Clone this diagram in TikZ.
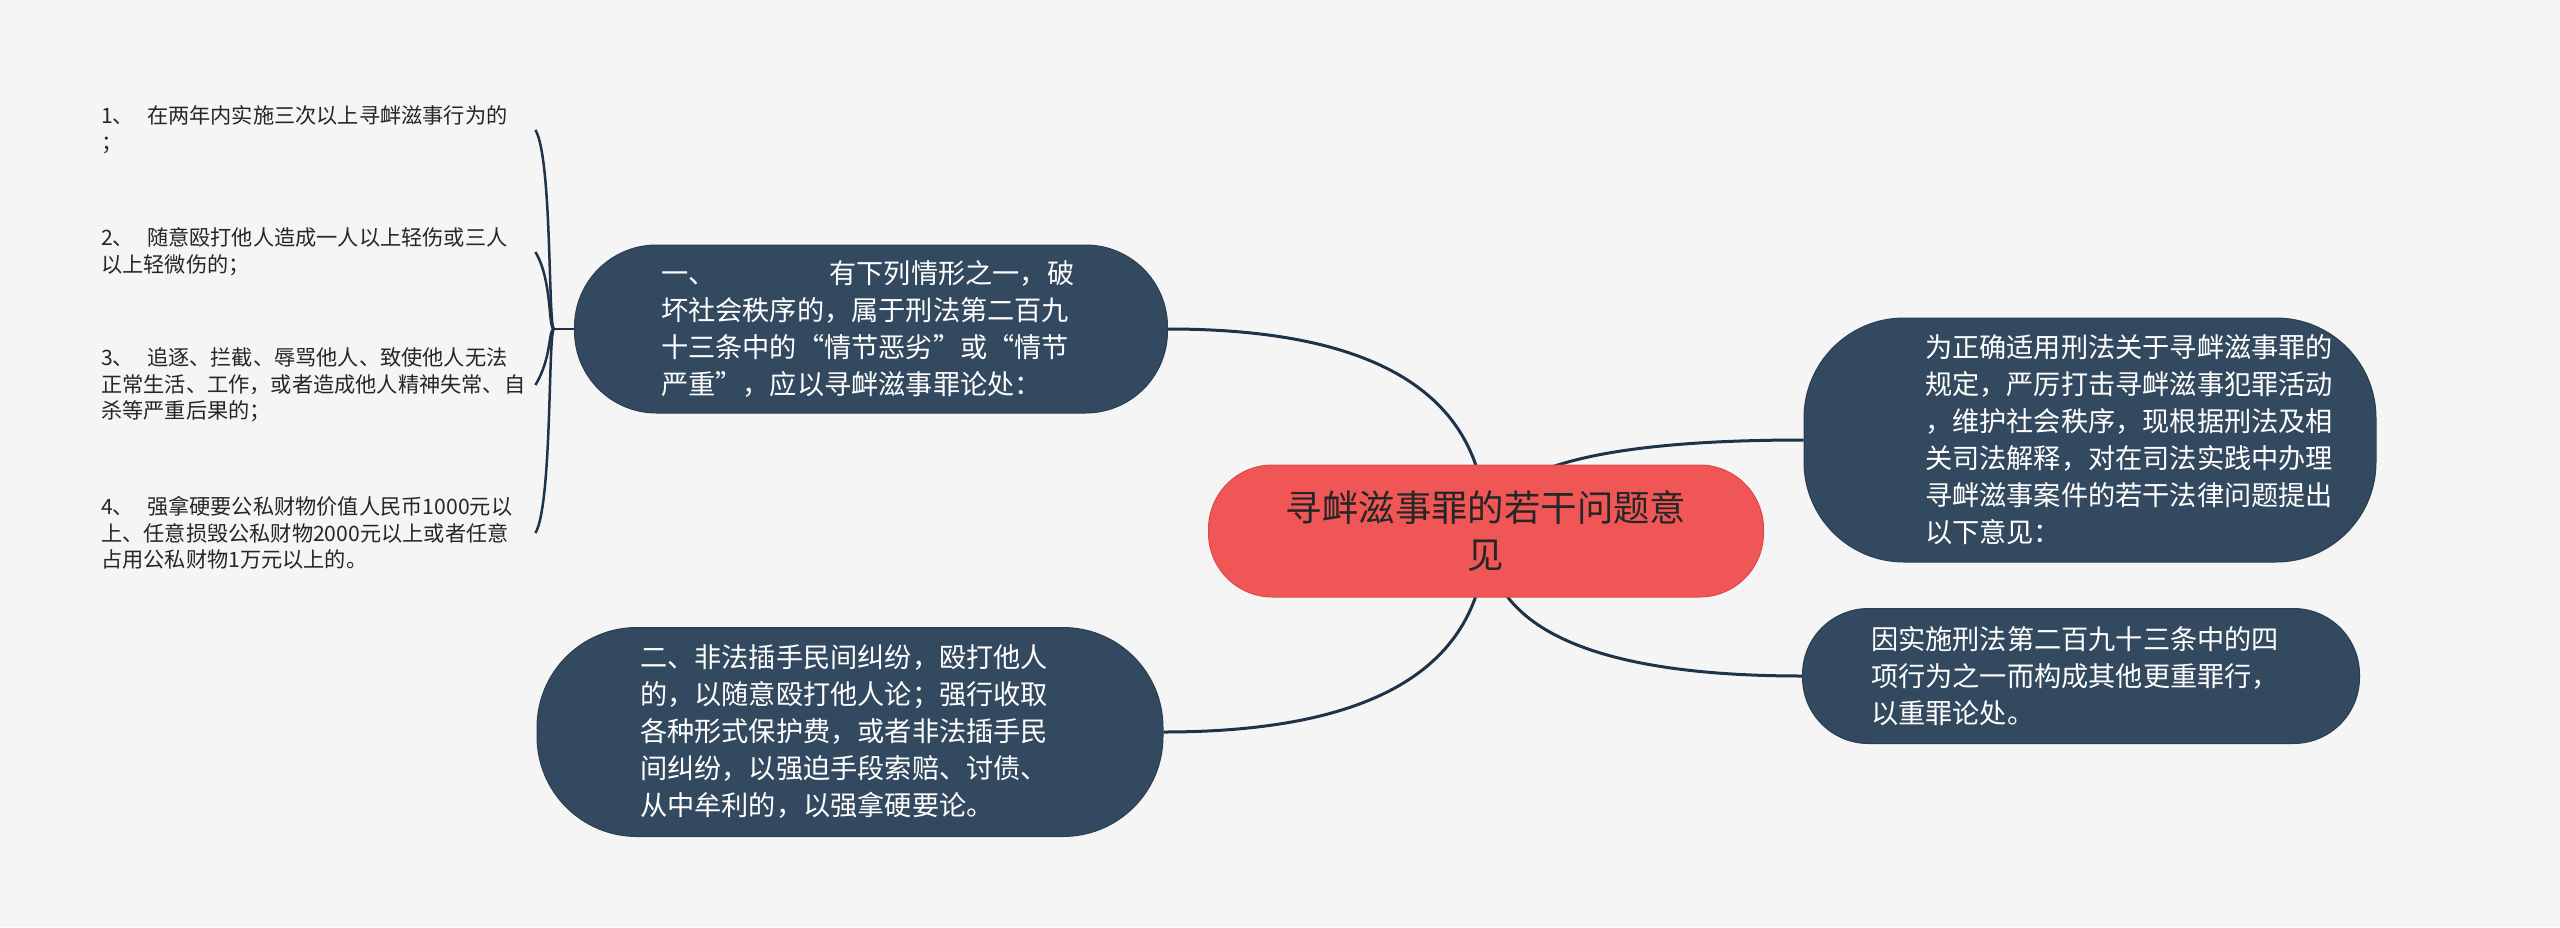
\documentclass[tikz,border=0pt]{standalone}
\usepackage{fontspec}
\setmainfont{Noto Sans CJK SC}
\usetikzlibrary{backgrounds,calc}

\definecolor{paper}{RGB}{245,245,245}
\definecolor{slate}{RGB}{51,73,95}
\definecolor{slateline}{RGB}{30,50,72}
\definecolor{coral}{RGB}{240,86,86}
\definecolor{coraledge}{RGB}{222,72,72}
\definecolor{ink}{RGB}{38,38,38}

\begin{document}
\begin{tikzpicture}[x=1pt, y=-1pt,
  root/.style  = { rectangle, fill=coral, draw=coraledge, line width=1pt,
                   minimum width=555pt, minimum height=132pt,
                   rounded corners=64pt, align=center, text=ink,
                   font=\fontsize{36.4}{47}\selectfont },
  topic/.style = { rectangle, fill=slate, draw=slate!85!black, line width=1pt,
                   text width=420pt, align=left, text=white,
                   font=\fontsize{27.2}{37}\selectfont },
  leaf/.style  = { anchor=west, inner sep=0pt, text width=434pt, align=left,
                   text=ink, font=\fontsize{21.2}{26.7}\selectfont },
  link/.style  = { draw=slateline, line width=3pt },
  twig/.style  = { draw=slateline, line width=2.5pt }]
  \useasboundingbox (0,0) rectangle (2560,927);

  \node [root] (root) at (1486,531) {寻衅滋事罪的若干问题意\\见};

  \node [topic, minimum width=593pt, minimum height=168pt, rounded corners=82pt]
    (one) at (871,329)
    {一、\hspace{114pt}有下列情形之一，破\\坏社会秩序的，属于刑法第二百九\\十三条中的“情节恶劣”或“情节\\严重”，应以寻衅滋事罪论处：};
  \node [topic, minimum width=626pt, minimum height=209pt, rounded corners=100pt]
    (two) at (850,732)
    {二、非法插手民间纠纷，殴打他人\\的，以随意殴打他人论；强行收取\\各种形式保护费，或者非法插手民\\间纠纷，以强迫手段索赔、讨债、\\从中牟利的，以强拿硬要论。};
  \node [topic, minimum width=572pt, minimum height=244pt, rounded corners=100pt,
         text width=486pt]
    (intro) at (2090,440)
    {\leftskip=78pt 为正确适用刑法关于寻衅滋事罪的\\规定，严厉打击寻衅滋事犯罪活动\\，维护社会秩序，现根据刑法及相\\关司法解释，对在司法实践中办理\\寻衅滋事案件的若干法律问题提出\\以下意见：\par};
  \node [topic, minimum width=557pt, minimum height=135pt, rounded corners=66pt]
    (heavier) at (2081,676)
    {因实施刑法第二百九十三条中的四\\项行为之一而构成其他更重罪行，\\以重罪论处。};

  \node [leaf] (l1) at (101,130)
    {1、\hspace{13pt}在两年内实施三次以上寻衅滋事行为的\\；};
  \node [leaf] (l2) at (101,252)
    {2、\hspace{13pt}随意殴打他人造成一人以上轻伤或三人\\以上轻微伤的；};
  \node [leaf] (l3) at (101,385)
    {3、\hspace{13pt}追逐、拦截、辱骂他人、致使他人无法\\正常生活、工作，或者造成他人精神失常、自\\杀等严重后果的；};
  \node [leaf] (l4) at (101,533)
    {4、\hspace{13pt}强拿硬要公私财物价值人民币1000元以\\上、任意损毁公私财物2000元以上或者任意\\占用公私财物1万元以上的。};

  \coordinate (fork) at ([xshift=-20pt]one.west);

  \begin{scope}[on background layer]
    \fill [paper] (0,0) rectangle (2560,927);
    \foreach \kid/\side in {one/east, two/east, intro/west, heavier/west}
      \path [link] (root.center)
        .. controls ($(root.center)!0.667!(root.center |- \kid.\side)$)
               and ($(\kid.\side)!0.667!(root.center |- \kid.\side)$)
        .. (\kid.\side);
  \end{scope}

  \draw [twig] (one.west) -- (fork);
  \foreach \leafname/\dy in {l1/28, l2/28, l3/-28, l4/-28}
    \draw [twig] (fork) .. controls +(-6,0) and +(17,\dy) .. (\leafname.east);
\end{tikzpicture}
\end{document}
